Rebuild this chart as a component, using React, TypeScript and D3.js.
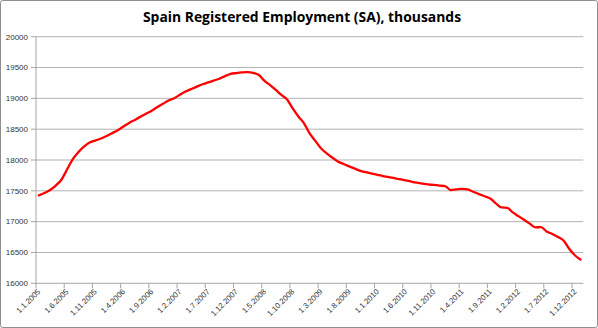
import React from "react";
import * as d3 from "d3";

const title = "Spain Registered Employment (SA), thousands";

const startYear = 2005;
const values: number[] = [
  17427, 17465, 17513, 17585, 17680, 17845, 18010, 18125, 18215, 18282,
  18315, 18349, 18390, 18436, 18484, 18543, 18602, 18650, 18700, 18750,
  18800, 18858, 18911, 18965, 19003, 19058, 19110, 19150, 19190, 19228,
  19258, 19288, 19318, 19360, 19396, 19410, 19420, 19424, 19412, 19378,
  19282, 19215, 19136, 19055, 18980, 18836, 18705, 18595, 18430, 18310,
  18190, 18108, 18040, 17977, 17935, 17897, 17860, 17824, 17802, 17780,
  17760, 17740, 17724, 17705, 17688, 17670, 17650, 17632, 17617, 17604,
  17595, 17585, 17578, 17512, 17522, 17532, 17522, 17485, 17447, 17412,
  17375, 17298, 17230, 17225, 17150, 17090, 17030, 16968, 16908, 16910,
  16840, 16800, 16752, 16695, 16560, 16455, 16385,
];

const yTicks = [16000, 16500, 17000, 17500, 18000, 18500, 19000, 19500, 20000];
const labelEvery = 5;

const W = 598;
const H = 328;
const left = 36;
const right = 583.3;
const top = 36.7;
const bottom = 283.3;

function monthLabel(i: number): string {
  const y = startYear + Math.floor(i / 12);
  const m = (i % 12) + 1;
  return `1.${m}.${y}`;
}

export default function App() {
  const n = values.length;
  const x = d3.scaleLinear().domain([0, n]).range([left, right]);
  const y = d3.scaleLinear().domain([16000, 20000]).range([bottom, top]);

  const line = d3
    .line<number>()
    .x((_, i) => x(i + 0.5))
    .y((d) => y(d))
    .curve(d3.curveMonotoneX);

  const tickIdx = d3.range(0, n, labelEvery);
  const font = "Liberation Sans, Arial, sans-serif";

  return (
    <svg
      width={W}
      height={H}
      style={{ position: "absolute", left: 0, top: 0, background: "#fff" }}
    >
      <rect x={0.5} y={0.5} width={W - 1} height={H - 1} fill="#fff" stroke="#8e8e8e" rx={2} />
      <text
        x={302}
        y={22}
        textAnchor="middle"
        fontFamily="Open Sans, sans-serif"
        fontWeight="bold"
        fontSize={13.9}
        fill="#000"
      >
        {title}
      </text>
      {yTicks.map((t) => (
        <g key={t}>
          {t !== 16000 && (
            <line x1={left} x2={right} y1={y(t)} y2={y(t)} stroke="#b3b3b3" strokeWidth={1} />
          )}
          <line x1={left - 5} x2={left} y1={y(t)} y2={y(t)} stroke="#a6a6a6" strokeWidth={1} />
          <text
            x={28}
            y={y(t)}
            dy="0.35em"
            textAnchor="end"
            fontFamily={font}
            fontSize={8}
            fill="#333"
          >
            {t}
          </text>
        </g>
      ))}
      <line x1={left} x2={left} y1={top} y2={bottom} stroke="#a6a6a6" strokeWidth={1} />
      <line x1={left} x2={right} y1={bottom} y2={bottom} stroke="#a6a6a6" strokeWidth={1} />
      {tickIdx.map((i) => (
        <g key={i}>
          <line x1={x(i)} x2={x(i)} y1={bottom} y2={bottom + 5} stroke="#a6a6a6" strokeWidth={1} />
          <text
            transform={`translate(${x(i) + 3},${bottom + 7}) rotate(-45)`}
            textAnchor="end"
            dy="0.35em"
            fontFamily={font}
            fontSize={7.8}
            fill="#333"
          >
            {monthLabel(i)}
          </text>
        </g>
      ))}
      <path d={line(values) || ""} fill="none" stroke="#ff0000" strokeWidth={2.3} strokeLinejoin="round" strokeLinecap="round" />
    </svg>
  );
}
